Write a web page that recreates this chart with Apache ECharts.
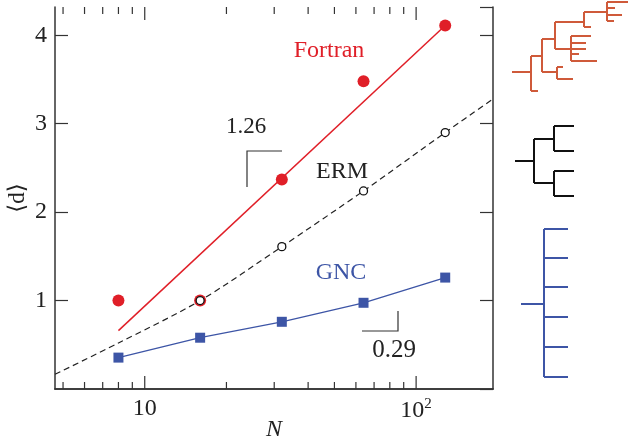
<!DOCTYPE html>
<html><head><meta charset="utf-8">
<script src="https://cdn.jsdelivr.net/npm/echarts@6/dist/echarts.min.js"></script>
<style>html,body{margin:0;padding:0;background:#fff}#c{width:630px;height:444px}</style>
</head><body><div id="c"></div>
<script>
const N = [8, 16, 32, 64, 128];
const fortran = [1.0, 1.0, 2.37, 3.48, 4.11];
const ermN = [16, 32, 64, 128];
const erm = [1.0, 1.61, 2.24, 2.90];
const gnc = [0.355, 0.58, 0.76, 0.975, 1.26];
const fortranFitN = [8, 128];
const fortranFit = [0.66, 4.11];
const ermCurveN = [4.67, 8, 16, 32, 64, 128, 192];
const ermCurve = [0.166, 0.52, 1.0, 1.61, 2.24, 2.90, 3.28];
const xMinorTicks = [5, 6, 7, 8, 9, 20, 30, 40, 50, 60, 70, 80, 90];
const xMajorTicks = [10, 100];
const X_MIN = 4.67, X_MAX = 192, Y_MIN = 0, Y_MAX = 4.32;

const FONT = '"Liberation Serif", "DejaVu Serif", serif';
const RED = '#e01f28', BLUE = '#3d55a6', ORANGE = '#cf5a3a', AX = '#333';
const zip = (a, b) => a.map((v, i) => [v, b[i]]);

function seg(x1, y1, x2, y2, c) {
  return {type: 'line', shape: {x1, y1, x2, y2}, style: {stroke: c, lineWidth: 2}, silent: true};
}
const orangeSegs = [
  [512,72,531,72],[531,56,531,91],[531,91,538,91],[531,56,542,56],[542,39,542,72],
  [542,72,557,72],[557,67,557,79],[557,67,563,67],[557,79,573,79],[542,39,555,39],
  [555,22,555,49],[571,36,571,61],[571,36,591,36],[571,43,586,43],[555,49,586,49],
  [571,54,579,54],[571,61,597,61],[555,22,584,22],[584,12,584,27],[584,27,591,27],
  [584,12,607,12],[607,2,607,21],[607,2,628,2],[607,8,615,8],[607,15,622,15],[607,21,614,21]
];
const blackSegs = [
  [515,161,534,161],[534,139,534,183],[534,139,554,139],[534,183,554,183],
  [554,126,554,151],[554,126,574,126],[554,151,574,151],
  [554,171,554,196],[554,171,574,171],[554,196,574,196]
];
const blueSegs = [
  [544,229,544,377],[544,229,568,229],[544,258,568,258],[544,287,568,287],
  [544,317,568,317],[544,347,568,347],[544,377,568,377],[521,304,544,304]
];

const graphics = [];
orangeSegs.forEach(s => graphics.push(seg(...s, ORANGE)));
blackSegs.forEach(s => graphics.push(seg(...s, '#111')));
blueSegs.forEach(s => graphics.push(seg(...s, BLUE)));
graphics.push({type: 'polyline', shape: {points: [[247,187],[247,151],[282,151]]}, style: {stroke: '#333', lineWidth: 1.2, fill: null}});
graphics.push({type: 'polyline', shape: {points: [[362,331],[398,331],[398,311]]}, style: {stroke: '#333', lineWidth: 1.2, fill: null}});
function txt(x, y, t, c, fs) {
  return {type: 'text', x, y, style: {text: t, fill: c, font: fs + 'px ' + FONT, align: 'center', verticalAlign: 'middle'}};
}
graphics.push(txt(246, 127, '1.26', '#222', 23));
graphics.push(txt(394, 350, '0.29', '#222', 25));
graphics.push(txt(329, 51, 'Fortran', RED, 24));
graphics.push(txt(342, 172, 'ERM', '#222', 24));
graphics.push(txt(341, 273, 'GNC', BLUE, 24));

const chart = echarts.init(document.getElementById('c'), null, {renderer: 'canvas'});
const isPow = (v, p) => Math.abs(Math.log10(v) - p) < 1e-6;
chart.setOption({
  animation: false,
  backgroundColor: '#fff',
  grid: {left: 55, right: 137, top: 7, bottom: 55, containLabel: false, outerBoundsMode: 'none'},
  xAxis: [{
    type: 'log', logBase: 10, min: X_MIN, max: X_MAX,
    name: 'N', nameLocation: 'middle', nameGap: 29, nameMoveOverlap: false,
    nameTextStyle: {fontFamily: FONT, fontSize: 24, fontStyle: 'italic', color: '#222'},
    axisLine: {show: true, lineStyle: {color: AX, width: 1.5}},
    axisTick: {show: false}, splitLine: {show: false},
    axisLabel: {
      margin: 8, color: '#222', fontFamily: FONT, fontSize: 24,
      showMinLabel: false, showMaxLabel: false,
      formatter: v => isPow(v, 1) ? '10' : (isPow(v, 2) ? '10{s|2}' : ''),
      rich: {s: {fontSize: 15, fontFamily: FONT, color: '#222', padding: [0, 0, 13, 0]}}
    }
  }, {
    type: 'log', logBase: 10, min: X_MIN, max: X_MAX, position: 'top',
    axisLine: {show: true, lineStyle: {color: AX, width: 1.5}},
    axisTick: {show: false}, axisLabel: {show: false}, splitLine: {show: false}
  }],
  yAxis: [{
    type: 'value', min: Y_MIN, max: Y_MAX, interval: 1,
    name: '⟨d⟩', nameLocation: 'middle', nameGap: 26, nameMoveOverlap: false,
    nameTextStyle: {fontFamily: FONT, fontSize: 23, color: '#222'},
    axisLine: {show: true, lineStyle: {color: AX, width: 1.5}},
    axisTick: {show: true, inside: true, length: 13, lineStyle: {color: AX, width: 1.2}},
    splitLine: {show: false},
    axisLabel: {margin: 8, color: '#222', fontFamily: FONT, fontSize: 24, showMinLabel: false, showMaxLabel: false,
      formatter: v => (v > 0 && Math.abs(v - Math.round(v)) < 1e-9) ? String(Math.round(v)) : ''}
  }, {
    type: 'value', min: Y_MIN, max: Y_MAX, interval: 1, position: 'right',
    axisLine: {show: true, lineStyle: {color: AX, width: 1.5}},
    axisTick: {show: true, inside: true, length: 13, lineStyle: {color: AX, width: 1.2}},
    axisLabel: {show: false}, splitLine: {show: false}
  }],
  series: [
    {
      type: 'custom', xAxisIndex: 0, yAxisIndex: 0, clip: false, silent: true,
      data: xMinorTicks.map(v => [v, 0]).concat(xMajorTicks.map(v => [v, 1])),
      renderItem: (params, api) => {
        const v = api.value(0), major = api.value(1);
        const b = api.coord([v, Y_MIN]), t = api.coord([v, Y_MAX]);
        const L = major ? 13 : 7;
        const st = {stroke: AX, lineWidth: 1.2};
        return {type: 'group', children: [
          {type: 'line', shape: {x1: b[0], y1: b[1], x2: b[0], y2: b[1] - L}, style: st},
          {type: 'line', shape: {x1: t[0], y1: t[1], x2: t[0], y2: t[1] + L}, style: st}
        ]};
      }
    },
    {type: 'line', data: zip(fortranFitN, fortranFit), symbol: 'none', lineStyle: {color: RED, width: 1.5}, z: 2},
    {type: 'line', data: zip(ermCurveN, ermCurve), symbol: 'none', smooth: 0.3,
      lineStyle: {color: '#222', width: 1.2, type: [6, 4]}, z: 2},
    {type: 'line', data: zip(N, gnc), symbol: 'rect', symbolSize: 10,
      itemStyle: {color: BLUE, opacity: 1}, lineStyle: {color: BLUE, width: 1.3}, z: 3},
    {type: 'scatter', data: zip(N, fortran), symbol: 'circle', symbolSize: 12, itemStyle: {color: RED, opacity: 1}, z: 4},
    {type: 'scatter', data: zip(ermN, erm), symbol: 'circle', symbolSize: 8,
      itemStyle: {color: '#fff', borderColor: '#111', borderWidth: 1.3, opacity: 1}, z: 5}
  ],
  graphic: graphics
});
</script></body></html>
